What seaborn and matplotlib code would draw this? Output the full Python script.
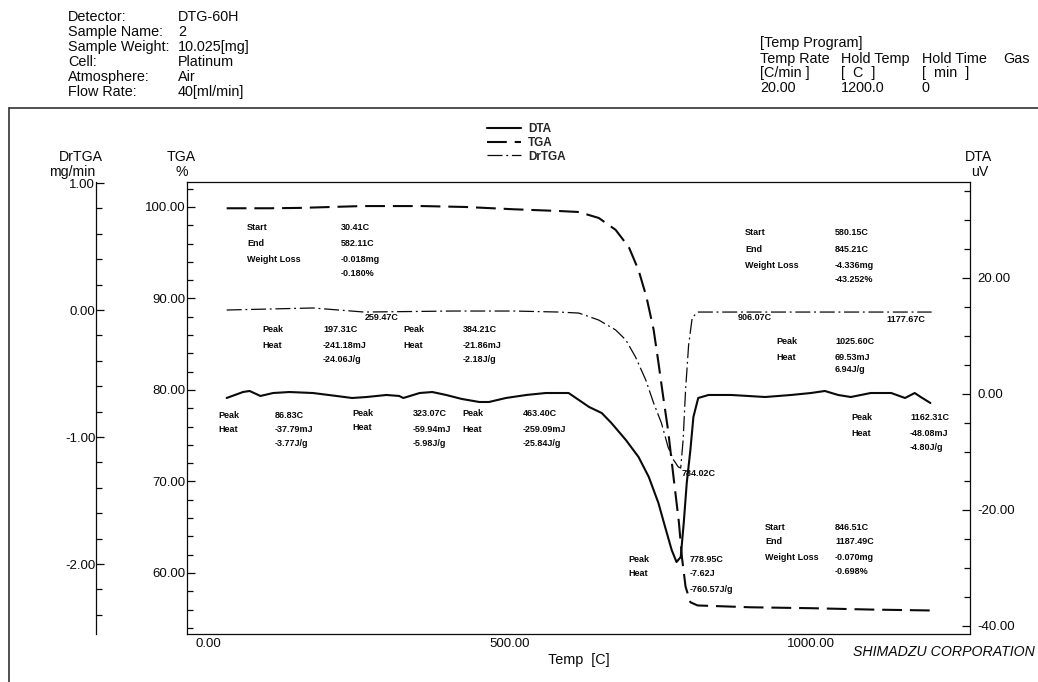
import matplotlib
matplotlib.use("Agg")
import matplotlib.pyplot as plt
from matplotlib.lines import Line2D
from matplotlib.ticker import MultipleLocator, FormatStrFormatter
import seaborn as sns

# TGA curve (temperature C, weight %)
tga_temp = [31, 103, 153, 255, 356, 427, 507, 582, 615, 648, 676, 698, 714, 727, 739,
            747, 755, 763, 772, 781, 786, 792, 800, 812, 900, 1000, 1100, 1200]
tga_pct = [99.86, 99.86, 99.9, 100.1, 100.1, 100.0, 99.75, 99.56, 99.45, 98.8, 97.5, 95.6,
           93.1, 90.2, 86.6, 83.0, 79.2, 75.6, 70.5, 65.5, 61.7, 58.5, 56.8, 56.45,
           56.25, 56.15, 56.0, 55.9]

# DrTGA curve (temperature C, mg/min)
drtga_temp = [31, 174, 259, 406, 507, 582, 615, 648, 676, 693, 709, 726, 739, 752, 763,
              772, 780, 784, 788, 792, 797, 803, 812, 906, 1050, 1178, 1200]
drtga_val = [0.0, 0.016, -0.016, -0.008, -0.008, -0.016, -0.024, -0.079, -0.157, -0.236,
             -0.37, -0.551, -0.732, -0.89, -1.079, -1.18, -1.236, -1.244, -1.02, -0.63,
             -0.28, -0.06, -0.016, -0.016, -0.016, -0.016, -0.016]

# DTA curve (temperature C, uV)
dta_temp = [31, 58, 69, 87, 108, 135, 174, 213, 239, 263, 296, 317, 324, 351, 372, 395,
            421, 450, 466, 494, 528, 560, 582, 598, 615, 632, 653, 669, 693, 714, 731,
            747, 758, 769, 777, 784, 789, 794, 800, 805, 813, 830, 868, 924, 967, 1000,
            1023, 1045, 1066, 1099, 1133, 1156, 1172, 1182, 1198]
dta_val = [-0.69, 0.34, 0.52, -0.34, 0.17, 0.34, 0.17, -0.34, -0.69, -0.52, -0.17, -0.34,
           -0.69, 0.17, 0.34, -0.17, -0.86, -1.38, -1.38, -0.69, -0.17, 0.17, 0.17, 0.17,
           -1.03, -2.24, -3.28, -5.0, -7.93, -10.86, -14.3, -18.8, -22.9, -26.9, -28.97,
           -28.1, -22.2, -15.3, -9.66, -3.97, -0.69, -0.17, -0.17, -0.52, -0.17, 0.17,
           0.52, -0.17, -0.52, 0.17, 0.17, -0.69, 0.17, -0.52, -1.55]

header_left = [("Detector:", "DTG-60H"), ("Sample Name:", "2"), ("Sample Weight:", "10.025[mg]"),
               ("Cell:", "Platinum"), ("Atmosphere:", "Air"), ("Flow Rate:", "40[ml/min]")]
header_right = [["Temp Rate", "Hold Temp", "Hold Time", "Gas"],
                ["[C/min ]", "[  C  ]", "[  min  ]", ""],
                ["20.00", "1200.0", "0", ""]]

# analysis notes printed by the instrument software (pixel x, pixel y, text)
notes = [
    (247, 228, "Start"), (341, 228, "30.41C"), (247, 244, "End"), (341, 244, "582.11C"),
    (247, 260, "Weight Loss"), (341, 260, "-0.018mg"), (341, 273, "-0.180%"),
    (365, 317, "259.47C"),
    (262, 330, "Peak"), (323, 330, "197.31C"), (403, 330, "Peak"), (463, 330, "384.21C"),
    (262, 345, "Heat"), (323, 345, "-241.18mJ"), (403, 345, "Heat"), (463, 345, "-21.86mJ"),
    (323, 360, "-24.06J/g"), (463, 360, "-2.18J/g"),
    (218, 415, "Peak"), (275, 415, "86.83C"), (352, 413, "Peak"), (413, 413, "323.07C"),
    (462, 413, "Peak"), (523, 413, "463.40C"),
    (218, 430, "Heat"), (275, 430, "-37.79mJ"), (352, 428, "Heat"), (413, 429, "-59.94mJ"),
    (462, 429, "Heat"), (523, 429, "-259.09mJ"),
    (275, 444, "-3.77J/g"), (413, 443, "-5.98J/g"), (523, 444, "-25.84J/g"),
    (745, 233, "Start"), (835, 233, "580.15C"), (745, 250, "End"), (835, 250, "845.21C"),
    (745, 266, "Weight Loss"), (835, 266, "-4.336mg"), (835, 279, "-43.252%"),
    (738, 318, "906.07C"), (886, 319, "1177.67C"),
    (776, 341, "Peak"), (835, 341, "1025.60C"), (776, 357, "Heat"), (835, 357, "69.53mJ"),
    (835, 369, "6.94J/g"),
    (851, 418, "Peak"), (910, 418, "1162.31C"), (851, 434, "Heat"), (910, 434, "-48.08mJ"),
    (910, 447, "-4.80J/g"),
    (682, 473, "784.02C"),
    (765, 527, "Start"), (835, 527, "846.51C"), (765, 542, "End"), (835, 542, "1187.49C"),
    (765, 558, "Weight Loss"), (835, 558, "-0.070mg"), (835, 572, "-0.698%"),
    (628, 559, "Peak"), (690, 559, "778.95C"), (628, 574, "Heat"), (690, 574, "-7.62J"),
    (690, 589, "-760.57J/g"),
]

sns.set_style("white")
plt.rcParams['font.family'] = ['Liberation Sans', 'DejaVu Sans']

W, H = 1038, 682


def fx(x):
    return x / W


def fy(y):
    return 1 - y / H


fig = plt.figure(figsize=(W / 100, H / 100), dpi=100)
ax_tga = fig.add_axes([fx(187), fy(634), fx(970) - fx(187), fy(182) - fy(634)])
ax_dta = ax_tga.twinx()
ax_dr = ax_tga.twinx()

ink = "#0a0a0a"
sns.lineplot(x=dta_temp, y=dta_val, ax=ax_dta, color=ink, lw=1.5, estimator=None, errorbar=None)
sns.lineplot(x=tga_temp, y=tga_pct, ax=ax_tga, color=ink, lw=1.5, estimator=None,
             errorbar=None, linestyle=(0, (9.5, 3.8)))
sns.lineplot(x=drtga_temp, y=drtga_val, ax=ax_dr, color=ink, lw=0.9, estimator=None,
             errorbar=None, linestyle=(0, (12, 3, 1.5, 3)))

ax_tga.set_xlim(-34.8, 1263.7)
ax_tga.set_ylim(53.33, 102.73)
ax_dta.set_ylim(-41.38, 36.55)
ax_dr.set_ylim(-2.551, 1.008)

# TGA axis (left of frame) and temperature axis
ax_tga.xaxis.set_major_locator(MultipleLocator(500))
ax_tga.xaxis.set_major_formatter(FormatStrFormatter("%.2f"))
ax_tga.set_xticks([t for t in range(0, 1201, 100)], minor=True)
ax_tga.yaxis.set_major_locator(MultipleLocator(10))
ax_tga.yaxis.set_minor_locator(MultipleLocator(2))
ax_tga.yaxis.set_major_formatter(FormatStrFormatter("%.2f"))
ax_tga.tick_params(axis="both", which="both", direction="in", color=ink, width=0.9,
                   labelsize=9.5, labelcolor=ink)
ax_tga.tick_params(axis="both", which="major", length=6)
ax_tga.tick_params(axis="both", which="minor", length=4)
ax_tga.tick_params(axis="y", pad=1)
ax_tga.tick_params(axis="x", pad=3)
for s in ax_tga.spines.values():
    s.set_color(ink)
    s.set_linewidth(0.9)

# DTA axis on the right
ax_dta.yaxis.set_major_locator(MultipleLocator(20))
ax_dta.yaxis.set_minor_locator(MultipleLocator(5))
ax_dta.yaxis.set_major_formatter(FormatStrFormatter("%.2f"))
ax_dta.tick_params(axis="y", which="both", direction="in", color=ink, width=0.9,
                   labelsize=9.5, labelcolor=ink, pad=5.5)
ax_dta.tick_params(axis="y", which="major", length=6)
ax_dta.tick_params(axis="y", which="minor", length=4)
for s in ax_dta.spines.values():
    s.set_visible(False)

# DrTGA axis, detached to the far left
ax_dr.yaxis.set_label_position("left")
ax_dr.yaxis.tick_left()
for name, s in ax_dr.spines.items():
    s.set_visible(name == "left")
ax_dr.spines["left"].set_position(("axes", (96 - 187) / (970 - 187)))
ax_dr.spines["left"].set_color(ink)
ax_dr.spines["left"].set_linewidth(0.9)
ax_dr.yaxis.set_major_locator(MultipleLocator(1))
ax_dr.yaxis.set_minor_locator(MultipleLocator(0.2))
ax_dr.yaxis.set_major_formatter(FormatStrFormatter("%.2f"))
ax_dr.tick_params(axis="y", which="both", direction="in", color=ink, width=0.9,
                  labelsize=9.5, labelcolor=ink, pad=0.5)
ax_dr.tick_params(axis="y", which="major", length=6)
ax_dr.tick_params(axis="y", which="minor", length=4)

for a in (ax_tga, ax_dta, ax_dr):
    a.set_xlabel("")
    a.set_ylabel("")
    a.patch.set_visible(False)

# axis titles
fig.text(fx(81), fy(157), "DrTGA", ha="center", va="center", fontsize=10.2, color=ink)
fig.text(fx(72), fy(172), "mg/min", ha="center", va="center", fontsize=10.2, color=ink)
fig.text(fx(181), fy(157), "TGA", ha="center", va="center", fontsize=10.2, color=ink)
fig.text(fx(182), fy(172), "%", ha="center", va="center", fontsize=10.2, color=ink)
fig.text(fx(978), fy(157), "DTA", ha="center", va="center", fontsize=10.2, color=ink)
fig.text(fx(980), fy(172), "uV", ha="center", va="center", fontsize=10.2, color=ink)
fig.text(fx(579), fy(660), "Temp  [C]", ha="center", va="center", fontsize=10.4, color=ink)
fig.text(fx(1035), fy(652), "SHIMADZU CORPORATION", ha="right", va="center",
         fontsize=10.2, style="italic", color=ink)

# header block
for i, (lab, val) in enumerate(header_left):
    fig.text(fx(68), fy(17 + 15 * i), lab, ha="left", va="center", fontsize=10.4, color=ink)
    fig.text(fx(178), fy(17 + 15 * i), val, ha="left", va="center", fontsize=10.4, color=ink)
fig.text(fx(760), fy(43), "[Temp Program]", ha="left", va="center", fontsize=10.4, color=ink)
for r, row in enumerate(header_right):
    for c, cell in enumerate(row):
        fig.text(fx(760 + 81 * c), fy(59 + 14.5 * r), cell, ha="left", va="center",
                 fontsize=10.4, color=ink)

# printed notes
for x, y, t in notes:
    fig.text(fx(x), fy(y), t, ha="left", va="center", fontsize=6.5, fontweight="bold",
             color=ink)

# legend
handles = [ax_dta.get_lines()[0], ax_tga.get_lines()[0], ax_dr.get_lines()[0]]
fig.legend(handles, ["DTA", "TGA", "DrTGA"], loc="upper left",
           bbox_to_anchor=(fx(487), fy(123)), frameon=False,
           prop={"size": 8.5, "weight": "bold"},
           borderpad=0, borderaxespad=0, handlelength=2.9, handletextpad=0.6,
           labelspacing=0.15)

# outer page frame
fig.add_artist(Line2D([fx(9), 1], [fy(108), fy(108)], color="#333333", lw=1.2))
fig.add_artist(Line2D([fx(9), fx(9)], [0, fy(108)], color="#333333", lw=1.2))

fig.savefig("out.png", dpi=100)
